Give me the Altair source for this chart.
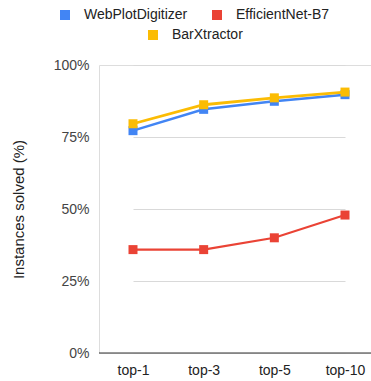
import altair as alt
import pandas as pd

# Retrieval depth on the x axis
ranks = ["top-1", "top-3", "top-5", "top-10"]

# Share of instances solved (%) per method
webplotdigitizer = [77.2, 84.6, 87.4, 89.7]
efficientnet_b7 = [35.9, 35.9, 40.0, 47.9]
barxtractor = [79.6, 86.2, 88.6, 90.6]

series_names = ["WebPlotDigitizer", "EfficientNet-B7", "BarXtractor"]
series_colors = ["#4285F4", "#EA4335", "#FBBC04"]

rows = []
for name, vals in zip(series_names, [webplotdigitizer, efficientnet_b7, barxtractor]):
    for r, v in zip(ranks, vals):
        rows.append({"method": name, "rank": r, "solved": v / 100.0})
df = pd.DataFrame(rows)

FONT = "Liberation Sans"

x_enc = alt.X(
    "rank:N",
    sort=ranks,
    scale=alt.Scale(type="point", range=[34, 246], padding=0),
    axis=alt.Axis(
        title=None, domain=False, ticks=False, grid=False,
        labelFont=FONT, labelFontSize=14, labelColor="#222222",
        labelPadding=10, labelAngle=0,
    ),
)
y_enc = alt.Y(
    "solved:Q",
    scale=alt.Scale(domain=[0, 1], nice=False, zero=True),
    axis=alt.Axis(
        title="Instances solved (%)", format=".0%", values=[0, 0.25, 0.5, 0.75, 1.0],
        domain=False, ticks=False, grid=True, gridColor="#d9d9d9", gridWidth=1,
        labelFont=FONT, labelFontSize=14, labelColor="#444444", labelPadding=10,
        titleFont=FONT, titleFontSize=15, titleColor="#222222",
        titleFontWeight="normal", titlePadding=27,
    ),
)


def series_layer(name, width, legend_cfg):
    sub = df[df["method"] == name]
    scale = alt.Scale(domain=legend_cfg["domain"], range=legend_cfg["range"])
    if legend_cfg["show"]:
        legend = alt.Legend(
            title=None, orient="none", direction="horizontal",
            legendX=legend_cfg["x"], legendY=legend_cfg["y"],
            symbolType="square", symbolSize=100, symbolStrokeWidth=0,
            labelFont=FONT, labelFontSize=14, labelColor="#222222",
            columnPadding=22, labelOffset=12, symbolOffset=0, padding=0,
        )
    else:
        legend = None
    c = alt.Color("method:N", scale=scale, legend=legend)
    base = alt.Chart(sub).encode(x=x_enc, y=y_enc, color=c)
    line = base.mark_line(strokeWidth=width)
    pts = base.mark_point(shape="square", filled=True, size=81, opacity=1)
    return line + pts


top_legend = {"domain": series_names[:2], "range": series_colors[:2], "x": -41, "y": -57, "show": True}
second_legend = {"domain": series_names[2:], "range": series_colors[2:], "x": 47, "y": -37, "show": True}

blue = series_layer("WebPlotDigitizer", 2.5, dict(top_legend, show=True))
red = series_layer("EfficientNet-B7", 2.2, dict(top_legend, show=False))
yellow = series_layer("BarXtractor", 2.8, second_legend)

zero_line = alt.Chart(pd.DataFrame({"solved": [0.0]})).mark_rule(
    color="#333333", strokeWidth=1.2
).encode(y=alt.Y("solved:Q", scale=alt.Scale(domain=[0, 1])))

chart = (
    alt.layer(blue, red, yellow, zero_line)
    .resolve_scale(color="independent")
    .properties(
        width=272, height=288,
        autosize=alt.AutoSizeParams(type="none"),
        padding={"left": 99, "top": 65, "right": 0, "bottom": 28},
    )
    .configure_view(stroke=None)
    .configure(background="white")
)

chart.save("out.html", embed_options={"renderer": "svg", "actions": False})
